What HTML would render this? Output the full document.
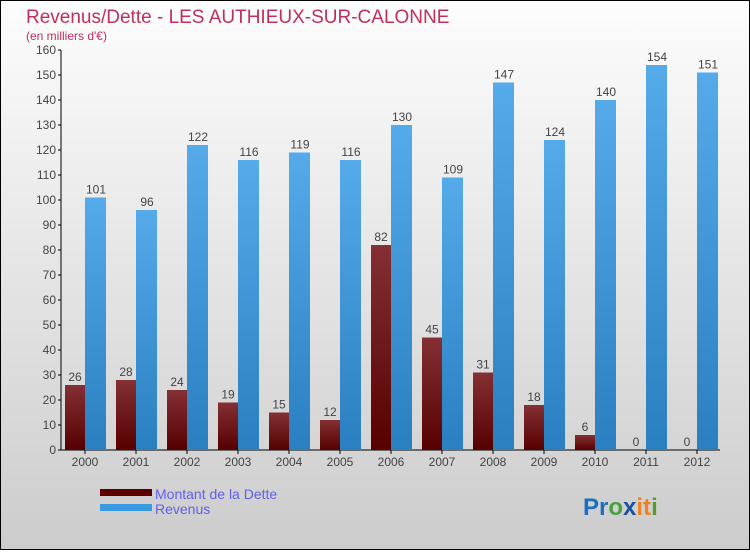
<!DOCTYPE html>
<html><head><meta charset="utf-8"><style>
body{margin:0;width:750px;height:550px;overflow:hidden;font-family:"Liberation Sans",sans-serif}
</style></head><body>
<svg width="750" height="550" xmlns="http://www.w3.org/2000/svg">
<defs>
<linearGradient id="bg" x1="0" y1="0" x2="0" y2="1"><stop offset="0" stop-color="#fdfdfd"/><stop offset="1" stop-color="#cccccc"/></linearGradient>
<linearGradient id="gd" x1="0" y1="0" x2="0" y2="1"><stop offset="0" stop-color="#843034"/><stop offset="1" stop-color="#560000"/></linearGradient>
<linearGradient id="gr" x1="0" y1="0" x2="0" y2="1"><stop offset="0" stop-color="#55aaea"/><stop offset="1" stop-color="#2a7fc0"/></linearGradient>
</defs>
<rect x="0.5" y="0.5" width="749" height="549" fill="url(#bg)" stroke="#000"/>
<text x="26" y="23" font-size="19" fill="#c0305a">Revenus/Dette - LES AUTHIEUX-SUR-CALONNE</text>
<text x="26" y="40" font-size="12" fill="#c0305a">(en milliers d'€)</text>
<g id="axes"></g>
<g id="bars"></g>
<rect x="100" y="489" width="52" height="7" fill="#5a0000"/>
<text x="155" y="499" font-size="14" fill="#6060ee">Montant de la Dette</text>
<rect x="100" y="504" width="52" height="7" fill="#3a9ae0"/>
<text x="155" y="514" font-size="14" fill="#6060ee">Revenus</text>
<g font-size="24" font-weight="bold">
<text x="583" y="515"><tspan fill="#1a70c0">Pr</tspan><tspan fill="#4aa040">o</tspan><tspan fill="#1a50a0">x</tspan><tspan fill="#f08020">it</tspan><tspan fill="#50a030">i</tspan></text>
</g>
</svg>
<script>
const years=["2000","2001","2002","2003","2004","2005","2006","2007","2008","2009","2010","2011","2012"];
const debt=[26,28,24,19,15,12,82,45,31,18,6,0,0];
const revenue=[101,96,122,116,119,116,130,109,147,124,140,154,151];
const ticks=[0,10,20,30,40,50,60,70,80,90,100,110,120,130,140,150,160];
const NS="http://www.w3.org/2000/svg";
const y=v=>450-v*2.5;
const gx=i=>65+i*51;
function mk(t,a,p){const e=document.createElementNS(NS,t);for(const k in a)e.setAttribute(k,a[k]);p.appendChild(e);return e;}
const ax=document.getElementById('axes'),bars=document.getElementById('bars');
let l=mk('line',{x1:61,y1:50,x2:61,y2:450,stroke:'#000'},ax);


l=mk('line',{x1:61,y1:450,x2:720,y2:450,stroke:'#000'},ax);


ticks.forEach(t=>{
 mk('line',{x1:58,y1:y(t),x2:61,y2:y(t),stroke:'#000'},ax);
 const tx=mk('text',{x:56,y:y(t)+4,'font-size':12,fill:'#444','text-anchor':'end'},ax);
 tx.textContent=t;
 
 
});
years.forEach((yr,i)=>{
 const x=gx(i);
 mk('line',{x1:x+20,y1:450,x2:x+20,y2:454,stroke:'#000'},ax);
 const tl=mk('text',{x:x+20,y:466,'font-size':12,fill:'#444','text-anchor':'middle'},ax);
 tl.textContent=yr;
 
 
 const d=mk('rect',{x:x,y:y(debt[i]),width:20,height:debt[i]*2.5,fill:'url(#gd)'},bars);
 
 
 const dl=mk('text',{x:x+10,y:y(debt[i])-4,'font-size':12,fill:'#444','text-anchor':'middle'},bars);
 dl.textContent=debt[i];
 
 
 const r=mk('rect',{x:x+20,y:y(revenue[i]),width:21,height:revenue[i]*2.5,fill:'url(#gr)'},bars);
 
 
 const rl=mk('text',{x:x+31,y:y(revenue[i])-4,'font-size':12,fill:'#444','text-anchor':'middle'},bars);
 rl.textContent=revenue[i];
 
 
});
</script>
</body></html>
